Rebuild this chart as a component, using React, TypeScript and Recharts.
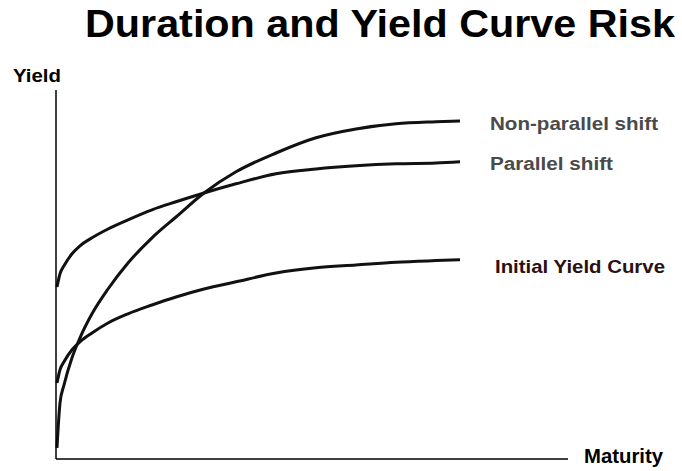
import { LineChart, Line, XAxis, YAxis } from "recharts";

// maturity (arbitrary units) and yield levels
const maturity = [0.25, 1, 2, 4, 6, 9, 13, 18, 24, 30, 37, 45, 55, 65, 75, 85, 95, 101];
const initialCurve = [19, 22.3, 24.3, 27.3, 29.3, 31.5, 34, 36.3, 38.5, 40.5, 42.5, 44.3, 46.5, 47.8, 48.5, 49.2, 49.6, 49.8];
const parallelShift = [43, 46.3, 48.3, 51.3, 53.3, 55.3, 57.5, 59.8, 62.3, 64.3, 66.5, 68.8, 71.3, 72.5, 73.3, 73.8, 74, 74.3];
const nonParallelShift = [2.8, 14, 18.5, 25.3, 30.3, 36.3, 42.5, 49, 55.3, 60.5, 66.5, 71.8, 76.5, 80.3, 82.5, 83.8, 84.3, 84.5];

const title = "Duration and Yield Curve Risk";
const yLabel = "Yield";
const xLabel = "Maturity";
const seriesNames = ["Non-parallel shift", "Parallel shift", "Initial Yield Curve"];

const rows = maturity.map((m, i) => ({
  m,
  initial: initialCurve[i],
  parallel: parallelShift[i],
  nonParallel: nonParallelShift[i],
}));

const font = '"Liberation Sans", Arial, sans-serif';

export default function App() {
  return (
    <div style={{ position: "relative", width: 682, height: 471, background: "#fff" }}>
      <style>{"body{margin:0}"}</style>
      <LineChart
        width={682}
        height={471}
        data={rows}
        margin={{ top: 90, right: 114, bottom: 11, left: 55 }}
      >
        <XAxis
          type="number"
          dataKey="m"
          domain={[0, 128]}
          height={1}
          tick={false}
          tickLine={false}
          axisLine={{ stroke: "#000", strokeWidth: 1.5 }}
        />
        <YAxis
          type="number"
          domain={[0, 92.25]}
          width={1}
          tick={false}
          tickLine={false}
          axisLine={{ stroke: "#000", strokeWidth: 1.5 }}
        />
        <Line type="monotone" dataKey="initial" stroke="#111" strokeWidth={3} dot={false} isAnimationActive={false} />
        <Line type="monotone" dataKey="parallel" stroke="#111" strokeWidth={3} dot={false} isAnimationActive={false} />
        <Line type="monotone" dataKey="nonParallel" stroke="#111" strokeWidth={3} dot={false} isAnimationActive={false} />
      </LineChart>
      <svg
        width={682}
        height={471}
        style={{ position: "absolute", left: 0, top: 0, pointerEvents: "none" }}
        fontFamily={font}
      >
        <text x={85} y={37} fontSize={38} fontWeight="bold" fill="#000" textLength={590} lengthAdjust="spacingAndGlyphs">
          {title}
        </text>
        <text x={13} y={82} fontSize={19} fontWeight="bold" fill="#000" textLength={48} lengthAdjust="spacingAndGlyphs">
          {yLabel}
        </text>
        <text x={584} y={463} fontSize={20} fontWeight="bold" fill="#000" textLength={79} lengthAdjust="spacingAndGlyphs">
          {xLabel}
        </text>
        <text x={490} y={130} fontSize={19} fontWeight={600} fill="#4a4a4a" textLength={168} lengthAdjust="spacingAndGlyphs">
          {seriesNames[0]}
        </text>
        <text x={490} y={170} fontSize={18} fontWeight={600} fill="#4a4a4a" textLength={123} lengthAdjust="spacingAndGlyphs">
          {seriesNames[1]}
        </text>
        <text x={495} y={273} fontSize={19} fontWeight="bold" fill="#2b1010" textLength={170} lengthAdjust="spacingAndGlyphs">
          {seriesNames[2]}
        </text>
      </svg>
    </div>
  );
}
